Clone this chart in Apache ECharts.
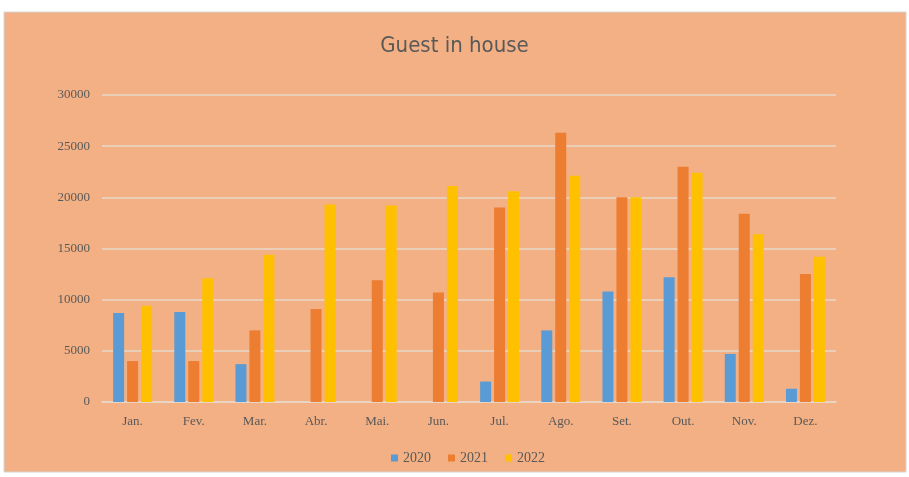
<!DOCTYPE html>
<html>
<head>
<meta charset="utf-8">
<script src="https://cdn.jsdelivr.net/npm/echarts@6/dist/echarts.min.js"></script>
<style>
  html, body { margin: 0; padding: 0; background: #fff; }
  #main { width: 909px; height: 477px; }
</style>
</head>
<body>
<div id="main"></div>
<script>
// meses e valores
var months = ['Jan.', 'Fev.', 'Mar.', 'Abr.', 'Mai.', 'Jun.', 'Jul.', 'Ago.', 'Set.', 'Out.', 'Nov.', 'Dez.'];
var y2020 = [8700, 8800, 3700, 0, 0, 0, 2000, 7000, 10800, 12200, 4700, 1300];
var y2021 = [4000, 4000, 7000, 9100, 11900, 10700, 19000, 26300, 20000, 23000, 18400, 12500];
var y2022 = [9400, 12100, 14400, 19300, 19200, 21100, 20600, 22100, 20000, 22400, 16400, 14200];
var yTicks = [0, 5000, 10000, 15000, 20000, 25000, 30000];

var chart = echarts.init(document.getElementById('main'));

function barSerie(name, data, color) {
  return {
    name: name,
    type: 'bar',
    data: data,
    barWidth: 11,
    barGap: '27%',
    itemStyle: { color: color },
    emphasis: { disabled: true }
  };
}

var option = {
  animation: false,
  graphic: [{
    type: 'rect',
    z: -10,
    shape: { x: 4, y: 12, width: 902, height: 460 },
    style: { fill: '#F2B084', stroke: '#d6d6d6', lineWidth: 1 }
  }],
  title: {
    text: 'Guest in house',
    left: 'center',
    top: 30,
    textStyle: {
      color: '#595959',
      fontSize: 22,
      fontWeight: 'normal',
      fontFamily: '"DejaVu Sans Condensed", "Liberation Sans Narrow", sans-serif'
    }
  },
  legend: {
    bottom: 7,
    left: 386,
    itemWidth: 7,
    itemHeight: 7,
    itemGap: 17,
    icon: 'rect',
    textStyle: { color: '#595959', fontSize: 14, fontFamily: '"Liberation Serif", serif' },
    data: ['2020', '2021', '2022']
  },
  grid: { left: 102, right: 73, top: 95, bottom: 75, containLabel: false },
  xAxis: {
    type: 'category',
    data: months,
    axisLine: { lineStyle: { color: '#e8d8c8', width: 1.5 } },
    axisTick: { show: false },
    axisLabel: { color: '#595959', fontSize: 13, margin: 13, fontFamily: '"Liberation Serif", serif' }
  },
  yAxis: {
    type: 'value',
    min: yTicks[0],
    max: yTicks[yTicks.length - 1],
    interval: 5000,
    axisLine: { show: false },
    axisTick: { show: false },
    axisLabel: {
      color: '#595959', fontSize: 13, margin: 12, fontFamily: '"Liberation Serif", serif',
      formatter: function (v) { return String(v); }
    },
    splitLine: { lineStyle: { color: '#e8d8c8', width: 1.5 } }
  },
  series: [
    barSerie('2020', y2020, '#5B9BD5'),
    barSerie('2021', y2021, '#ED7D31'),
    barSerie('2022', y2022, '#FFC000')
  ]
};

chart.setOption(option);
</script>
</body>
</html>
